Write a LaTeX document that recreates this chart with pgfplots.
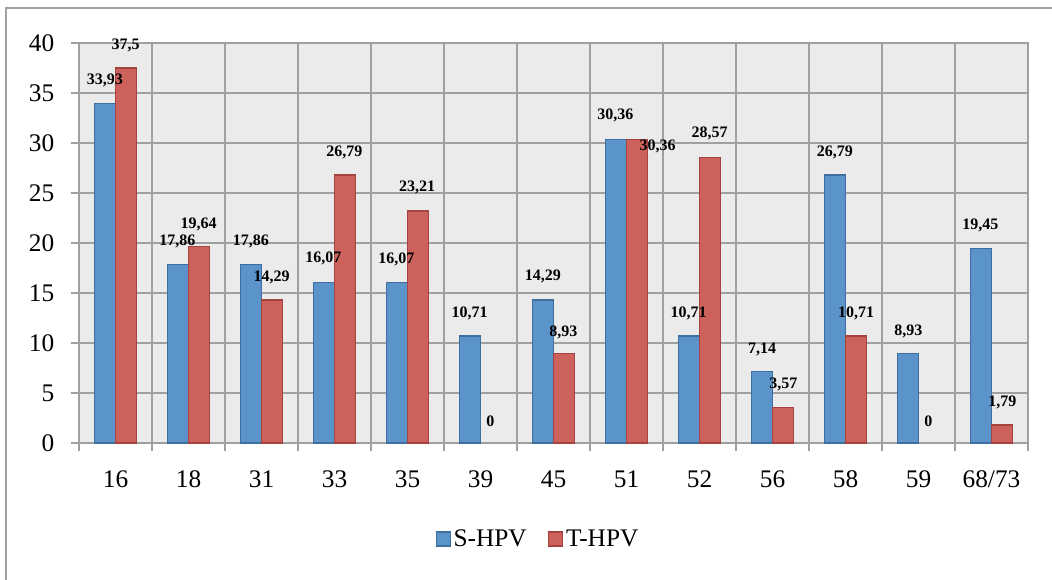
\documentclass[border=0pt]{standalone}
\usepackage{pgfplots}
\pgfplotsset{compat=1.18}
\usepackage{pgfplotstable}
\usepackage{fontspec}
\setmainfont{Liberation Serif}
\definecolor{bgray}{HTML}{EBEBEB}
\definecolor{ggray}{HTML}{A0A0A0}
\definecolor{sblue}{HTML}{5B94CA}
\definecolor{sblueedge}{HTML}{3E6F9F}
\definecolor{tred}{HTML}{CD625C}
\definecolor{trededge}{HTML}{A4433F}

\pgfplotstableread{
x y
0 33.93
1 17.86
2 17.86
3 16.07
4 16.07
5 10.71
6 14.29
7 30.36
8 10.71
9 7.14
10 26.79
11 8.93
12 19.45
}\shpv

\pgfplotstableread{
x y
0 37.5
1 19.64
2 14.29
3 26.79
4 23.21
5 0
6 8.93
7 30.36
8 28.57
9 3.57
10 10.71
11 0
12 1.79
}\thpv

\pgfplotstableread{
x y label
-0.144 36.22 {33,93}
0.140 39.73 {37,5}
0.849 20.12 {17,86}
1.140 21.85 {19,64}
1.856 20.12 {17,86}
2.140 16.57 {14,29}
2.847 18.42 {16,07}
3.134 29.04 {26,79}
3.849 18.35 {16,07}
4.133 25.53 {23,21}
4.852 12.93 {10,71}
5.134 2.2 {0}
5.856 16.61 {14,29}
6.134 11.10 {8,93}
6.847 32.71 {30,36}
7.427 29.70 {30,36}
7.852 12.93 {10,71}
8.140 30.95 {28,57}
8.859 9.32 {7,14}
9.148 5.81 {3,57}
9.856 29.10 {26,79}
10.144 12.93 {10,71}
10.860 11.16 {8,93}
11.134 2.2 {0}
11.849 21.78 {19,45}
12.148 4.04 {1,79}
}\labels

\begin{document}
\begin{tikzpicture}
\useasboundingbox (0pt,0pt) rectangle (789pt,-434.25pt);
\fill[white] (0pt,0pt) rectangle (789pt,-434.25pt);
\draw[ggray, line width=1.3pt] (4.5pt,-460pt) -- (4.5pt,-6pt) -- (820pt,-6pt);
\begin{axis}[
  at={(59.25pt,-32.25pt)}, anchor=north west,
  width=711.75pt, height=300pt, scale only axis,
  xmin=-0.5, xmax=12.5, ymin=0, ymax=40,
  axis background/.style={fill=bgray},
  xtick={0,...,12},
  xticklabels={16,18,31,33,35,39,45,51,52,56,58,59,68/73},
  minor xtick={-0.5,0.5,...,12.5},
  ytick={0,5,...,40},
  tick pos=left,
  tick align=outside,
  major tick length=6pt, minor tick length=6pt,
  major x tick style={draw=none},
  every tick/.style={ggray, line width=1.1pt},
  xminorgrids=true, ymajorgrids=true,
  grid style={ggray, line width=1.1pt},
  minor grid style={ggray, line width=1.1pt},
  axis line style={ggray, line width=1.1pt},
  /pgf/number format/assume math mode=true,
  ticklabel style={font=\fontsize{19}{19}\selectfont},
  yticklabel style={xshift=-9pt},
  xticklabel style={yshift=-11pt},
  ybar, bar width=0.29,
  legend style={at={(0.484,-0.24)}, anchor=center, draw=none, fill=none,
    legend columns=2, font=\fontsize{19}{19}\selectfont,
    /tikz/every even column/.append style={column sep=14pt}},
  legend image code/.code={\draw[#1, line width=1pt] (0pt,-5.25pt) rectangle (10.5pt,5.25pt);},
]
\addplot[fill=sblue, draw=sblueedge, line width=1pt, bar shift=-0.145] table[x=x,y=y] {\shpv};
\addlegendentry{S-HPV}
\addplot[fill=tred, draw=trededge, line width=1pt, bar shift=0.145,
  y filter/.expression={y==0 ? nan : y}] table[x=x,y=y] {\thpv};
\addlegendentry{T-HPV}
\addplot[draw=none, mark=none, nodes near coords, point meta=explicit symbolic,
  forget plot, bar shift=0,
  every node near coord/.append style={anchor=center, inner sep=0pt, font=\bfseries\fontsize{12}{12}\selectfont, text=black}]
  table[x=x, y=y, meta=label] {\labels};
\end{axis}
\end{tikzpicture}
\end{document}
